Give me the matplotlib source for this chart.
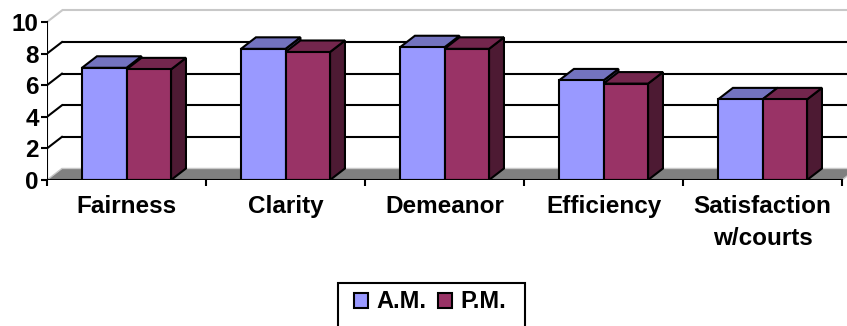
import matplotlib.pyplot as plt
from matplotlib.patches import Polygon, Patch, Rectangle
import numpy as np

categories = ["Fairness", "Clarity", "Demeanor", "Efficiency", "Satisfaction\nw/courts"]
am = [7.1, 8.3, 8.4, 6.3, 5.1]
pm = [7.0, 8.1, 8.3, 6.1, 5.1]
series = ["A.M.", "P.M."]

# front / top / side shades for each series
shades = {
    "A.M.": ("#9999FF", "#7373BF", "#4D4D80"),
    "P.M.": ("#993366", "#73264D", "#4D1A33"),
}

plt.rcParams["font.family"] = ["Liberation Sans", "DejaVu Sans"]
plt.rcParams["font.weight"] = "bold"

W, H = 847, 326
fig = plt.figure(figsize=(W / 100, H / 100), dpi=100)
ax = fig.add_axes([47 / W, (H - 180) / H, 800 / W, 180 / H])
ax.set_xlim(0, 800 / 159)
ax.set_ylim(0, 180 / 15.8)
for s in ax.spines.values():
    s.set_visible(False)

n = len(categories)
dx, dy = 0.094, 0.73      # depth offset of the 3d box
gap, bw = 0.22, 0.28
lw = 1.5

# floor
floor = Polygon([(0, 0), (n, 0), (n + dx, dy), (dx, dy)], closed=True,
                facecolor="#808080", edgecolor="#c8c8c8", lw=1, zorder=1)
ax.add_patch(floor)

# back wall gridlines and left wall diagonals
for v in range(2, 11, 2):
    c = "black" if v < 10 else "#c8c8c8"
    ax.plot([dx, n + dx + 0.2], [v + dy, v + dy], color=c, lw=lw, zorder=2,
            solid_capstyle="butt")
    ax.plot([0, dx], [v, v + dy], color=c, lw=lw, zorder=2)

# front axis lines
ax.plot([0, 0], [0, 10], color="black", lw=lw, zorder=6)
ax.plot([0, n], [0, 0], color="black", lw=lw, zorder=6)


def box(x0, w, h, name, z):
    front, top, side = shades[name]
    x1 = x0 + w
    ax.add_patch(Polygon([(x1, 0), (x1 + dx, dy), (x1 + dx, h + dy), (x1, h)],
                         closed=True, facecolor=side, edgecolor="black", lw=lw, zorder=z))
    ax.add_patch(Polygon([(x0, h), (x1, h), (x1 + dx, h + dy), (x0 + dx, h + dy)],
                         closed=True, facecolor=top, edgecolor="black", lw=lw, zorder=z))


x = np.arange(n)
for i in range(n):
    box(x[i] + gap, bw, am[i], "A.M.", 3)
    box(x[i] + gap + bw, bw, pm[i], "P.M.", 4)
ax.bar(x + gap, am, bw, align="edge", color=shades["A.M."][0],
       edgecolor="black", lw=lw, zorder=3.5)
ax.bar(x + gap + bw, pm, bw, align="edge", color=shades["P.M."][0],
       edgecolor="black", lw=lw, zorder=4.5)

ax.set_yticks(range(0, 11, 2))
ax.set_yticklabels([str(v) for v in range(0, 11, 2)], fontsize=17.5, fontweight="bold")
ax.tick_params(axis="y", length=4, width=lw, pad=2)

ax.set_xticks(x + 0.5)
ax.set_xticklabels(categories, fontsize=17.5, fontweight="bold", linespacing=1.5)
ax.set_xticks(np.arange(n + 1), minor=True)
ax.tick_params(axis="x", which="major", length=0, pad=11)
ax.tick_params(axis="x", which="minor", length=4, width=lw, direction="out")

handles = [Patch(facecolor=shades[s][0], edgecolor="black", lw=lw) for s in series]
fig.legend(handles, series, loc="center", bbox_to_anchor=(430 / W, (H - 302) / H),
           ncol=2, frameon=False, borderpad=0, handlelength=0.6, handleheight=0.6,
           handletextpad=0.35, columnspacing=0.5,
           prop={"size": 17, "weight": "bold"})
fig.patches.append(Rectangle((338 / W, -0.05), (525 - 338) / W, (H - 283) / H + 0.05,
                             transform=fig.transFigure, fill=False,
                             edgecolor="black", lw=lw))

fig.savefig("out.png", dpi=100)
